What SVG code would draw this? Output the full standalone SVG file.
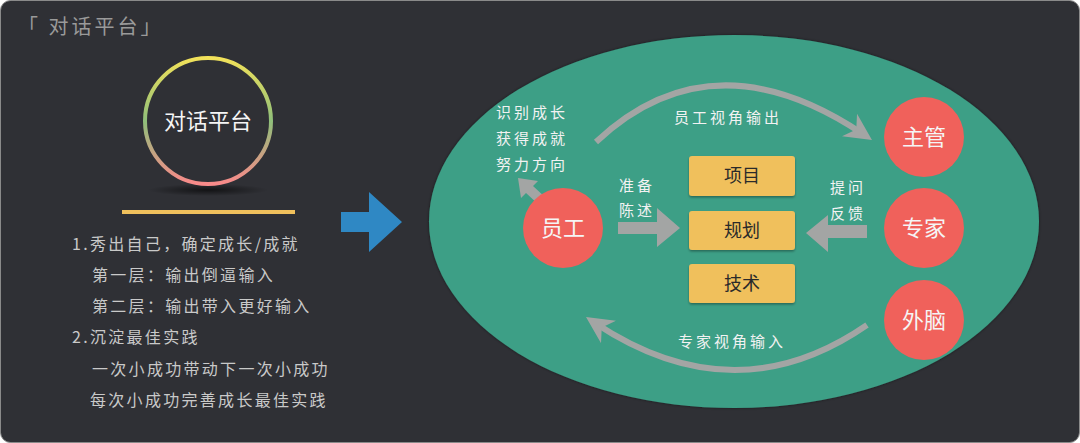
<svg xmlns="http://www.w3.org/2000/svg" width="1080" height="443" viewBox="0 0 1080 443">
<defs>
<linearGradient id="ring" x1="0" y1="0" x2="0" y2="1">
<stop offset="0" stop-color="#f2e25a"/>
<stop offset="0.5" stop-color="#8fbf7a"/>
<stop offset="1" stop-color="#f98a8a"/>
</linearGradient>
<radialGradient id="shadow" cx="0.5" cy="0.5" r="0.5">
<stop offset="0" stop-color="#000" stop-opacity="0.6"/>
<stop offset="1" stop-color="#000" stop-opacity="0"/>
</radialGradient>
<filter id="bs" x="-10%" y="-10%" width="120%" height="130%">
<feDropShadow dx="0" dy="1.5" stdDeviation="1" flood-color="#000" flood-opacity="0.35"/>
</filter>
<filter id="es" x="-5%" y="-5%" width="110%" height="110%">
<feDropShadow dx="0" dy="0" stdDeviation="1.5" flood-color="#000" flood-opacity="0.5"/>
</filter>
<marker id="ah" viewBox="0 0 10 10" refX="6" refY="5" markerWidth="4.5" markerHeight="4.5" orient="auto" markerUnits="strokeWidth">
<path d="M0,0 L10,5 L0,10 L3,5 Z" fill="#a3a5a4"/>
</marker>
</defs>
<style>
.cjk{font-family:"Noto Sans CJK SC","Noto Sans",sans-serif;}
.note{font-family:"Noto Sans CJK SC",sans-serif;font-size:15px;fill:#f2f2f2;letter-spacing:3px;}
.left{font-family:"Noto Sans CJK SC",sans-serif;font-size:16px;fill:#c9c9c9;letter-spacing:2.3px;}
.red{fill:#f0615b;}
.box{fill:#f0c05c;filter:url(#bs);}
.boxt{font-family:"Noto Sans CJK SC",sans-serif;font-size:18px;fill:#2a2a2a;text-anchor:middle;}
.ct{font-family:"Noto Sans CJK SC",sans-serif;font-size:22px;fill:#f5f5f5;text-anchor:middle;}
.gray{fill:#a3a5a4;}
.arc{fill:none;stroke:#a3a5a4;stroke-width:6;}
</style>
<rect x="0" y="0" width="1080" height="443" fill="#ffffff"/>
<rect x="0.5" y="0.5" width="1079" height="442" rx="10" fill="#2f3035" stroke="#8a8a8a" stroke-width="1"/>

<!-- left panel -->
<text x="18" y="34" class="cjk" font-size="20" fill="#9a9a9a" letter-spacing="3">「 对话平台」</text>
<g id="platform">
<ellipse cx="208" cy="190" rx="60" ry="6" fill="url(#shadow)"/>
<circle cx="208" cy="121" r="63" fill="none" stroke="url(#ring)" stroke-width="4"/>
<text x="208" y="129" class="ct">对话平台</text>
</g>
<rect x="122" y="210" width="173" height="4" fill="#f0c05c"/>
<text x="72" y="250" class="left">1.秀出自己，确定成长/成就</text>
<text x="92" y="281" class="left">第一层：输出倒逼输入</text>
<text x="92" y="312" class="left">第二层：输出带入更好输入</text>
<text x="72" y="343" class="left">2.沉淀最佳实践</text>
<text x="92" y="375" class="left">一次小成功带动下一次小成功</text>
<text x="90" y="406" class="left">每次小成功完善成长最佳实践</text>
<g id="bluearrow">
<polygon points="341,212 369,212 369,192 402,222 369,252 369,232 341,232" fill="#2f88c4"/>
</g>

<!-- ellipse -->
<ellipse cx="734" cy="221.5" rx="305" ry="186.5" fill="#3d9f86" filter="url(#es)"/>

<g id="connectors">
<path class="arc" d="M596,142 Q712,33 863,134" marker-end="url(#ah)"/>
<path class="arc" d="M867,325 Q735,416 595,323" marker-end="url(#ah)"/>
<polygon class="gray" points="618,222 657,222 657,208 680,228 657,247 657,234 618,234"/>
<polygon class="gray" points="867,225 828,225 828,215 806,233 828,252 828,238 867,238"/>
<polygon class="gray" points="546,198 533,186 538,181 518,178 521,198 526,193 539,205"/>
</g>

<text x="496" y="118" class="note">识别成长</text>
<text x="496" y="144" class="note">获得成就</text>
<text x="496" y="170" class="note">努力方向</text>
<text x="728" y="123" class="note" text-anchor="middle">员工视角输出</text>
<text x="732" y="347" class="note" text-anchor="middle">专家视角输入</text>
<text x="619" y="191" class="note">准备</text>
<text x="619" y="216" class="note">陈述</text>
<text x="830" y="193" class="note">提问</text>
<text x="830" y="219" class="note">反馈</text>

<g id="employee"><circle class="red" cx="563" cy="228" r="40"/><text x="563" y="236" class="ct">员工</text></g>
<g id="manager"><circle class="red" cx="924" cy="137" r="40"/><text x="924" y="145" class="ct">主管</text></g>
<g id="expert"><circle class="red" cx="924" cy="228" r="40"/><text x="924" y="236" class="ct">专家</text></g>
<g id="brain"><circle class="red" cx="924" cy="320" r="40"/><text x="924" y="328" class="ct">外脑</text></g>

<g id="project"><rect class="box" x="689" y="156" width="106" height="40" rx="3"/><text x="742" y="182" class="boxt">项目</text></g>
<g id="plan"><rect class="box" x="689" y="211" width="106" height="39" rx="3"/><text x="742" y="237" class="boxt">规划</text></g>
<g id="tech"><rect class="box" x="689" y="264" width="106" height="39" rx="3"/><text x="742" y="290" class="boxt">技术</text></g>
</svg>
